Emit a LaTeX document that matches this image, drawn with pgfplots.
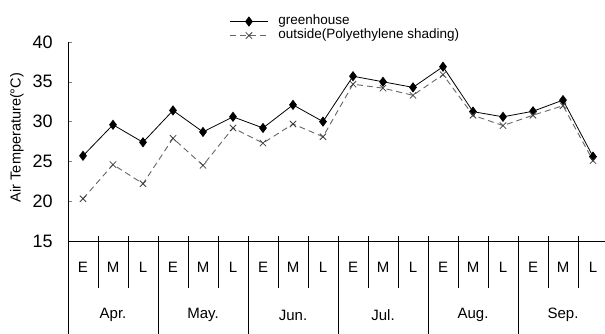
\documentclass[border=0pt]{standalone}
\usepackage{pgfplots}
\pgfplotsset{compat=1.18}
\usepackage{fontspec}
\setmainfont{Liberation Sans}
\begin{document}
\begin{tikzpicture}
\useasboundingbox (0,0) rectangle (605bp,334bp);
\begin{axis}[
  at={(68bp,93bp)}, anchor=south west,
  scale only axis, width=537bp, height=199bp,
  xmin=0, xmax=17.9, ymin=15, ymax=40,
  axis x line*=bottom, axis y line*=left,
  clip=false,
  line width=0.8bp,
  ytick={15,20,25,30,35,40},
  tick align=inside, major tick length=4bp,
  /pgf/number format/assume math mode=true,
  yticklabel style={font=\fontsize{18bp}{20bp}\selectfont, anchor=east, inner sep=0pt, xshift=-15bp},
  xtick={0.5,1.5,...,17.5},
  xticklabels={E,M,L,E,M,L,E,M,L,E,M,L,E,M,L,E,M,L},
  x tick style={draw=none},
  xticklabel style={font=\fontsize{15bp}{17bp}\selectfont, anchor=center, inner sep=0pt, yshift=-26bp},
  ylabel={Air Temperature(°C)},
  ylabel style={at={(axis description cs:-0.095,0.52)}, anchor=center, font=\fontsize{14.5bp}{16bp}\selectfont},
  legend style={at={(axis description cs:0.3,1.14)}, anchor=north west, draw=none, fill=none,
     inner sep=0pt, font=\fontsize{13.5bp}{14bp}\selectfont,
     nodes={inner sep=0pt, text height=10bp, text depth=4bp},
     row sep=0pt, cells={anchor=west},
     /tikz/every odd column/.append style={column sep=10bp}},
  legend image code/.code={\draw[mark repeat=2,mark phase=2,#1] plot coordinates {(0bp,0bp)(19bp,0bp)(38bp,0bp)};},
]
\addplot[black, line width=0.8bp, mark=diamond*, mark size=4.5bp, mark options={solid, fill=black}]
coordinates {(0.5,25.7)(1.5,29.6)(2.5,27.4)(3.5,31.4)(4.5,28.7)(5.5,30.6)(6.5,29.2)(7.5,32.1)(8.5,30.0)
(9.5,35.7)(10.5,35.0)(11.5,34.3)(12.5,36.9)(13.5,31.25)(14.5,30.6)(15.5,31.3)(16.5,32.7)(17.5,25.6)};
\addlegendentry{greenhouse}
\addplot[black!60, line width=0.9bp, dash pattern=on 6bp off 4bp, mark=x, mark size=4.5bp, mark options={solid, black!75, line width=0.8bp}]
coordinates {(0.5,20.3)(1.5,24.6)(2.5,22.2)(3.5,27.9)(4.5,24.5)(5.5,29.2)(6.5,27.3)(7.5,29.7)(8.5,28.1)
(9.5,34.7)(10.5,34.2)(11.5,33.3)(12.5,35.9)(13.5,30.8)(14.5,29.5)(15.5,30.8)(16.5,32.0)(17.5,25.1)};
\addlegendentry{outside(Polyethylene shading)}
\pgfplotsinvokeforeach{1,2,4,5,7,8,10,11,13,14,16,17}{
  \draw[black, line width=0.9bp] ([yshift=5bp]axis cs:#1,15) -- ([yshift=-47bp]axis cs:#1,15);
}
\pgfplotsinvokeforeach{3,6,9,12,15}{
  \draw[black, line width=0.9bp] ([yshift=5bp]axis cs:#1,15) -- ([yshift=-95bp]axis cs:#1,15);
}
\draw[black, line width=0.9bp] (axis cs:0,15) -- ([yshift=-95bp]axis cs:0,15);
\node[font=\fontsize{15bp}{17bp}\selectfont, anchor=center] at ([yshift=-74bp]axis cs:1.5,15) {Apr.};
\node[font=\fontsize{15bp}{17bp}\selectfont, anchor=center] at ([yshift=-74bp]axis cs:4.5,15) {May.};
\node[font=\fontsize{15bp}{17bp}\selectfont, anchor=center] at ([yshift=-74bp]axis cs:7.5,15) {Jun.};
\node[font=\fontsize{15bp}{17bp}\selectfont, anchor=center] at ([yshift=-74bp]axis cs:10.5,15) {Jul.};
\node[font=\fontsize{15bp}{17bp}\selectfont, anchor=center] at ([yshift=-74bp]axis cs:13.5,15) {Aug.};
\node[font=\fontsize{15bp}{17bp}\selectfont, anchor=center] at ([yshift=-74bp]axis cs:16.5,15) {Sep.};
\end{axis}
\end{tikzpicture}
\end{document}
